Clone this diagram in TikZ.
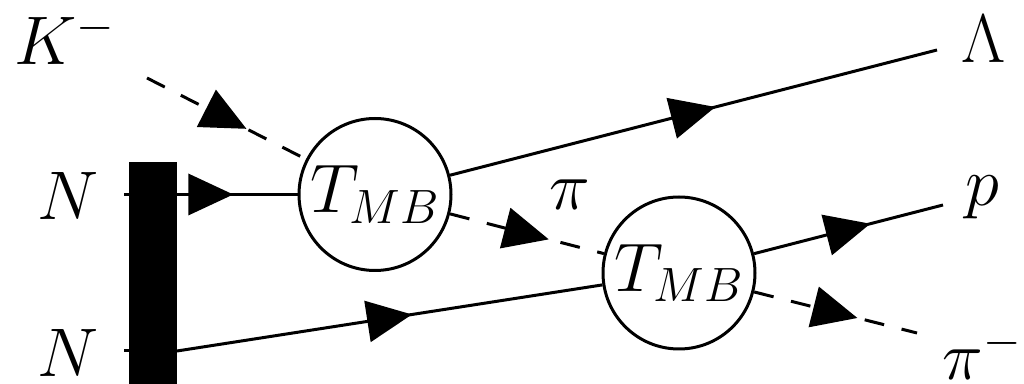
\RequirePackage{fix-cm}
\documentclass[tikz,border=0pt]{standalone}
\usetikzlibrary{decorations.markings}
\tikzset{
  lbl/.style={font=\fontsize{34.4}{40}\selectfont, inner sep=0pt},
  vtx/.style={circle, draw, minimum size=76pt, inner sep=0pt, font=\fontsize{34.4}{40}\selectfont},
  midarrow/.style={postaction={decorate}, decoration={markings,
    mark=at position 0.5 with {\fill[solid] (-11.25pt,10.5pt) -- (11.25pt,0pt) -- (-11.25pt,-10.5pt) -- cycle;}}},
  scalar/.style={dash pattern=on 10pt off 9pt},
}
\begin{document}
\begin{tikzpicture}[x=0.5pt, y=-0.5pt, line width=1.5pt]
\useasboundingbox (0,0) rectangle (1024,384);
% vertices
\node[vtx] (v1) at (375,194.5) {$T_{MB}$};
\node[vtx] (v2) at (679,273) {$T_{MB}$};
% free ends
\coordinate (kin) at (147,78);
\coordinate (n1in) at (124,194.5);
\coordinate (n2in) at (177,351);
\coordinate (n2tick) at (124,351);
\coordinate (lout) at (937,50);
\coordinate (pout) at (943,205);
\coordinate (piout) at (917,333);
% labels
\node[lbl, anchor=base] (lK) at (65,65) {$K^-$};
\node[lbl, anchor=base] (lN1) at (68,220) {$N$};
\node[lbl, anchor=base] (lN2) at (68,377) {$N$};
\node[lbl, anchor=base] (lL) at (984,63) {$\Lambda$};
\node[lbl, anchor=base] (lp) at (982,206) {$p$};
\node[lbl, anchor=base] (lpi) at (570,210) {$\pi$};
\node[lbl, anchor=base west] (lpim) at (941,380) {$\pi^-$};
% connectors
\draw[scalar, midarrow] (kin) -- (v1);
\draw[midarrow] (n1in) -- (v1);
\draw (n2tick) -- (n2in);
\draw[midarrow] (n2in) -- (v2);
\draw[midarrow] (v1) -- (lout);
\draw[scalar, midarrow] (v1) -- (v2);
\draw[midarrow] (v2) -- (pout);
\draw[scalar, midarrow] (v2) -- (piout);
% nucleus bar
\fill (129,162) rectangle (177,390);
\end{tikzpicture}
\end{document}
